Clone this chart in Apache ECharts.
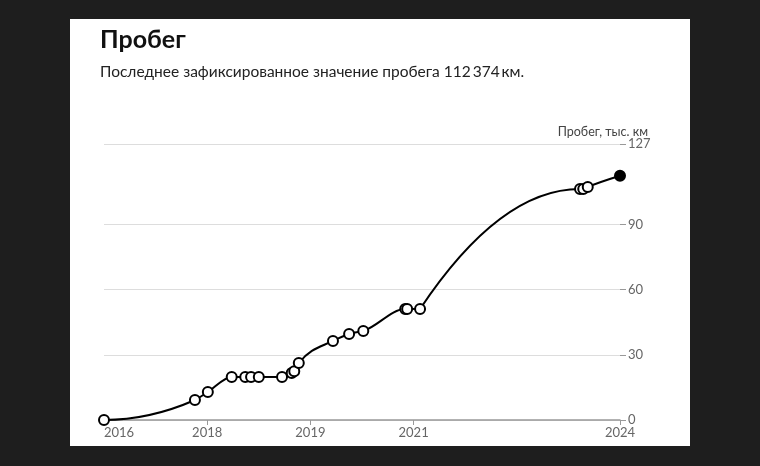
<!DOCTYPE html>
<html>
<head>
<meta charset="utf-8">
<script src="https://cdn.jsdelivr.net/npm/echarts@6/dist/echarts.min.js"></script>
<style>
  html, body { margin: 0; padding: 0; background: #1e1e1e; }
  #chart { width: 760px; height: 466px; }
</style>
</head>
<body>
<div id="chart"></div>
<script>
// dates as decimal years, mileage in thousand km
const dates = [2016.40, 2017.81, 2018.01, 2018.38, 2018.59, 2018.68, 2018.80, 2019.16,
  2019.31, 2019.35, 2019.42, 2019.95, 2020.20, 2020.42, 2021.07, 2021.10, 2021.30,
  2023.78, 2023.83, 2023.90, 2024.40];
const mileage = [0, 9.2, 12.9, 19.8, 19.8, 19.8, 19.8, 19.8,
  21.6, 22.4, 26.2, 36.4, 39.6, 41.0, 51.1, 51.1, 51.1,
  106.3, 106.3, 107.2, 112.374];
const xTicks = [2016.4, 2018.0, 2019.6, 2021.2, 2024.4];
const yTicks = [0, 30, 60, 90, 127];

const chartTitle = 'Пробег';
const chartSubtitle = 'Последнее зафиксированное значение пробега 112\u2009374\u2009км.';
const yName = 'Пробег, тыс. км';

const font = 'Lato, "Open Sans", sans-serif';

const pointData = dates.map((d, i) => {
  const item = { value: [d, mileage[i]] };
  if (i === dates.length - 1) {
    item.itemStyle = { color: '#000', borderColor: '#000' };
  }
  return item;
});

// monotone-x tangents (same idea as d3.curveMonotoneX), in pixel space
function monotoneTangents(px, py) {
  const n = px.length;
  const t = new Array(n).fill(0);
  for (let i = 1; i < n - 1; i++) {
    const h0 = px[i] - px[i - 1], h1 = px[i + 1] - px[i];
    const s0 = (py[i] - py[i - 1]) / h0, s1 = (py[i + 1] - py[i]) / h1;
    const p = (s0 * h1 + s1 * h0) / (h0 + h1);
    t[i] = (Math.sign(s0) + Math.sign(s1)) *
      Math.min(Math.abs(s0), Math.abs(s1), 0.5 * Math.abs(p)) || 0;
  }
  t[0] = (3 * (py[1] - py[0]) / (px[1] - px[0]) - t[1]) / 2;
  t[n - 1] = (3 * (py[n - 1] - py[n - 2]) / (px[n - 1] - px[n - 2]) - t[n - 2]) / 2;
  return t;
}

function renderSegment(params, api) {
  const i = params.dataIndex;
  if (i === 0) return;
  const pts = dates.map((d, j) => api.coord([d, mileage[j]]));
  const px = pts.map(p => p[0]);
  const py = pts.map(p => p[1]);
  const t = monotoneTangents(px, py);
  const k = i - 1;
  const dx = (px[i] - px[k]) / 3;
  let t0 = t[k];
  // long gaps (over a year) are drawn as one arc that eases into the next point
  if (dates[i] - dates[k] > 1) {
    t0 = 2 * (py[i] - py[k]) / (px[i] - px[k]) - t[i];
  }
  const path = 'M' + px[k] + ',' + py[k] +
    'C' + (px[k] + dx) + ',' + (py[k] + dx * t0) + ' ' +
    (px[i] - dx) + ',' + (py[i] - dx * t[i]) + ' ' +
    px[i] + ',' + py[i];
  return {
    type: 'path',
    shape: { pathData: path },
    style: { fill: 'none', stroke: '#000', lineWidth: 2 }
  };
}

const option = {
  animation: false,
  backgroundColor: '#1e1e1e',
  graphic: [
    {
      type: 'rect',
      z: -10,
      shape: { x: 70, y: 19, width: 620, height: 427 },
      style: { fill: '#ffffff' }
    }
  ],
  title: [
    {
      text: chartTitle,
      left: 95,
      top: 22,
      textStyle: { fontFamily: font, fontSize: 25, fontWeight: 'bold', color: '#111' }
    },
    {
      text: chartSubtitle,
      left: 95,
      top: 59,
      textStyle: { fontFamily: font, fontSize: 15.5, fontWeight: 'normal', color: '#222' }
    },
    {
      text: yName,
      right: 107,
      top: 120,
      textStyle: { fontFamily: font, fontSize: 12.5, fontWeight: 'normal', color: '#444' }
    }
  ],
  grid: {
    left: 104,
    right: 140,
    top: 144,
    bottom: 46,
    containLabel: false
  },
  xAxis: {
    type: 'value',
    min: 2016.4,
    max: 2024.4,
    axisLine: { show: true, lineStyle: { color: '#999', width: 1.5 } },
    axisTick: {
      show: true,
      length: 5,
      customValues: xTicks.slice(1),
      lineStyle: { color: '#999' }
    },
    splitLine: { show: false },
    axisLabel: {
      customValues: xTicks,
      margin: 6,
      fontFamily: font,
      fontSize: 13,
      color: '#666',
      alignMinLabel: 'left',
      formatter: v => String(Math.floor(v + 1e-6))
    }
  },
  yAxis: {
    type: 'value',
    position: 'right',
    min: 0,
    max: 127,
    axisLine: { show: false },
    axisTick: {
      show: true,
      length: 6,
      customValues: yTicks,
      lineStyle: { color: '#999' }
    },
    splitLine: { show: true, lineStyle: { color: '#ddd', width: 1 } },
    axisLabel: {
      customValues: yTicks,
      margin: 8,
      fontFamily: font,
      fontSize: 13,
      color: '#666'
    }
  },
  series: [
    {
      type: 'custom',
      data: pointData,
      renderItem: renderSegment,
      z: 2
    },
    {
      type: 'scatter',
      data: pointData,
      symbol: 'circle',
      symbolSize: 10,
      itemStyle: { color: '#fff', borderColor: '#000', borderWidth: 2, opacity: 1 },
      z: 3
    }
  ]
};

const myChart = echarts.init(document.getElementById('chart'));
myChart.setOption(option);
</script>
</body>
</html>
